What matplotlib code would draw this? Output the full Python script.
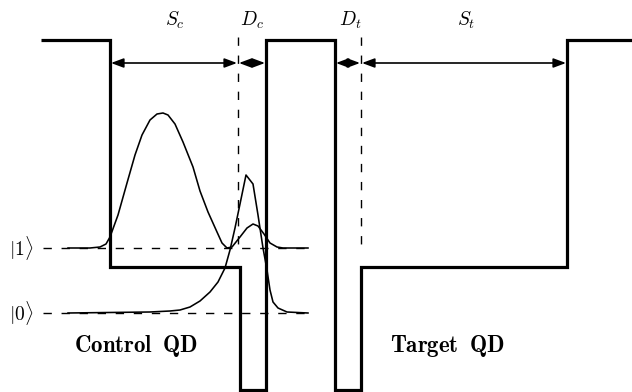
import matplotlib
matplotlib.use("Agg")
import matplotlib.pyplot as plt

plt.rcParams["mathtext.fontset"] = "cm"

# Potential profile of the coupled control / target quantum dots (x, energy)
potential_x = [41, 110, 110, 240, 240, 266, 266, 335, 335, 361, 361, 567, 567, 632]
potential_y = [40, 40, 267, 267, 390, 390, 40, 40, 390, 390, 267, 267, 40, 40]

# Energy levels of the control dot
level_names = [r"$|1\rangle$", r"$|0\rangle$"]
level_y = [248, 313]
level_x_start = 43
level_x_end = 308

# Wavefunction of |1> (offset to its level)
psi1_x = [68, 90, 100, 106, 110, 118, 127, 135, 142, 150, 157, 163, 168, 175,
          183, 193, 200, 208, 217, 222, 227, 232, 240, 247, 253, 258, 264, 270,
          277, 283, 308]
psi1_y = [248, 248, 247, 244, 237, 215, 183, 155, 135, 120, 114, 113, 115, 124,
          142, 167, 191, 212, 232, 243, 248, 247, 237, 228, 224, 226, 234, 243,
          247, 248, 248]

# Wavefunction of |0> (offset to its level)
psi0_x = [68, 150, 170, 180, 190, 200, 210, 218, 225, 230, 235, 240, 246, 253,
          258, 263, 267, 270, 273, 278, 287, 308]
psi0_y = [313, 312, 311, 310, 307, 301, 292, 282, 268, 250, 228, 204, 175, 184,
          215, 248, 270, 290, 302, 308, 312, 313]

# Boundaries of the barrier regions (dashed) and dimension arrows
boundary_x = [238, 361]
boundary_top = 37
boundary_bottom = 252
arrow_y = 63
arrow_spans = [(111, 237), (239, 265), (336, 360), (362, 566)]
span_labels = [r"$S_c$", r"$D_c$", r"$D_t$", r"$S_t$"]
span_label_x = [175, 252, 350, 466]
span_label_y = 20

dot_names = [r"$\mathbf{Control\;\;QD}$", r"$\mathbf{Target\;\;QD}$"]
dot_name_x = [136, 447]
dot_name_y = 346

fig = plt.figure(figsize=(6.32, 3.92), dpi=100)
ax = fig.add_axes([0, 0, 1, 1])
ax.set_xlim(0, 632)
ax.set_ylim(392, 0)
ax.axis("off")

dash = (6, 7)

# Energy levels
for name, y in zip(level_names, level_y):
    ax.plot([level_x_start, level_x_end], [y, y], color="black", lw=1.0,
            dashes=dash)
    ax.text(21, y, name, fontsize=14, ha="center", va="center")

# Barrier boundaries
for x in boundary_x:
    ax.plot([x, x], [boundary_top, boundary_bottom], color="black", lw=1.0,
            dashes=dash)

# Wavefunctions
ax.plot(psi1_x, psi1_y, color="black", lw=1.15)
ax.plot(psi0_x, psi0_y, color="black", lw=1.15)

# Potential
ax.plot(potential_x, potential_y, color="black", lw=2.3,
        solid_joinstyle="miter", solid_capstyle="butt")

# Dimension arrows
for (x0, x1) in arrow_spans:
    ax.annotate("", xy=(x1, arrow_y), xytext=(x0, arrow_y),
                arrowprops=dict(arrowstyle="<|-|>,head_length=0.75,head_width=0.28",
                                color="black", lw=1.2,
                                shrinkA=0, shrinkB=0))

for lbl, x in zip(span_labels, span_label_x):
    ax.text(x, span_label_y, lbl, fontsize=14, ha="center", va="center")

for name, x in zip(dot_names, dot_name_x):
    ax.text(x, dot_name_y, name, fontsize=16.5, ha="center", va="center")

fig.savefig("out.png", dpi=100)
